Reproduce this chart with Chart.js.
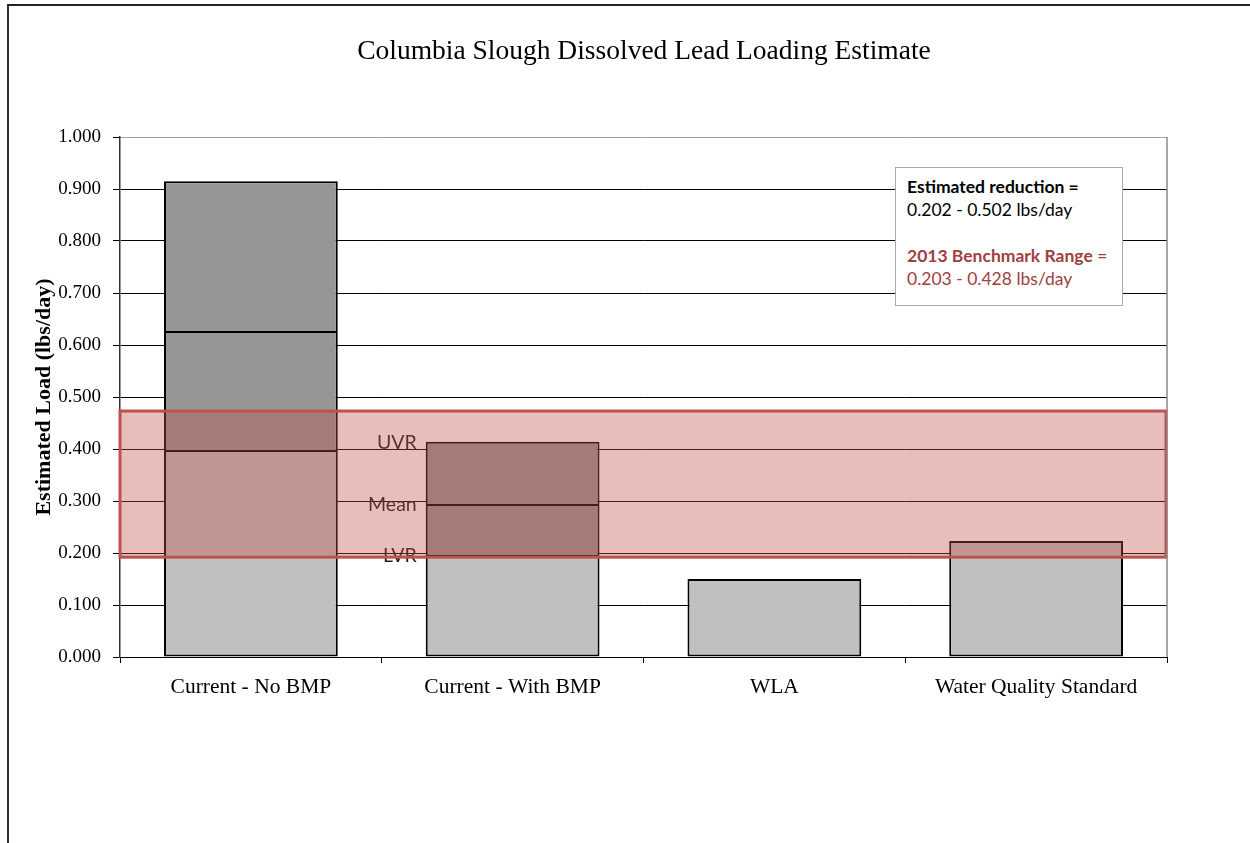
<!DOCTYPE html>
<html>
<head>
<meta charset="utf-8">
<script src="https://cdn.jsdelivr.net/npm/chart.js@4/dist/chart.umd.min.js"></script>
<style>
    html, body { margin: 0; padding: 0; background: #fff; }
    #wrap { position: relative; width: 1250px; height: 843px; overflow: hidden; }
    #frame { position: absolute; left: 7px; top: 4px; width: 1300px; height: 900px; border-top: 2px solid #222; border-left: 2px solid #333; }
    #chart { position: absolute; left: 0; top: 0; }
    #title {
        position: absolute; left: 344px; width: 600px; top: 33px; text-align: center;
        font-family: 'Liberation Serif', 'Times New Roman', serif; font-size: 27.5px; line-height: 34px; color: #000;
    }
    #note {
        position: absolute; left: 895px; top: 167px; width: 215px; height: 130px;
        border: 1px solid #aaa; background: #fff; padding: 7px 0 0 11px;
        font-family: Lato, 'Liberation Sans', sans-serif; font-size: 17.5px; line-height: 23px; color: #000;
    }
    #note .red { color: #a0413e; }
</style>
</head>
<body>
<div id="wrap">
    <div id="frame"></div>
    <canvas id="chart" width="1250" height="843"></canvas>
    <div id="title">Columbia Slough Dissolved Lead Loading Estimate</div>
    <div id="note">
        <b>Estimated reduction =</b><br>
        0.202 - 0.502 lbs/day<br>
        <br>
        <span class="red"><b>2013 Benchmark Range</b> =</span><br>
        <span class="red">0.203 - 0.428 lbs/day</span>
    </div>
</div>
<script>
const categories = ['Current - No BMP', 'Current - With BMP', 'WLA', 'Water Quality Standard'];
const lvr = [0.398, 0.196, 0.150, 0.223];
const mean = [0.627, 0.294, null, null];
const uvr = [0.915, 0.414, null, null];
const benchmarkBand = [0.192, 0.473];
const rangeLabels = ['UVR', 'Mean', 'LVR'];

const SERIF = "'Liberation Serif', 'Times New Roman', serif";

function span(lo, hi) {
    return lo.map((v, i) => (v === null || hi[i] === null) ? null : [v, hi[i]]);
}

const zeros = lvr.map(() => 0);

// band + range labels drawn over the bars
const overlayPlugin = {
    id: 'overlay',
    afterDatasetsDraw(chart) {
        const { ctx, chartArea, scales } = chart;
        const y = scales.y;

        // range labels next to the "With BMP" bar
        const bar = chart.getDatasetMeta(0).data[1];
        const lx = bar.x - bar.width / 2 - 9;
        const levels = [uvr[1], mean[1], lvr[1]];
        ctx.save();
        ctx.font = "19.5px Lato, 'Liberation Sans', sans-serif";
        ctx.fillStyle = '#1e1e1e';
        ctx.textAlign = 'right';
        ctx.textBaseline = 'middle';
        rangeLabels.forEach((t, i) => ctx.fillText(t, lx, y.getPixelForValue(levels[i]) + 1));
        ctx.restore();

        // benchmark band
        const top = y.getPixelForValue(benchmarkBand[1]);
        const bot = y.getPixelForValue(benchmarkBand[0]);
        ctx.save();
        ctx.fillStyle = 'rgba(192,80,77,0.37)';
        ctx.fillRect(chartArea.left, top, chartArea.right - chartArea.left, bot - top);
        ctx.strokeStyle = '#c0504d';
        ctx.lineWidth = 3;
        ctx.strokeRect(chartArea.left, top, chartArea.right - chartArea.left - 1, bot - top);
        ctx.restore();

        // right plot border
        ctx.save();
        ctx.strokeStyle = '#8a8a8a';
        ctx.lineWidth = 1.5;
        ctx.beginPath();
        ctx.moveTo(chartArea.right, chartArea.top);
        ctx.lineTo(chartArea.right, chartArea.bottom);
        ctx.stroke();
        ctx.restore();
    }
};

const barStyle = { borderColor: '#000', borderWidth: 2, grouped: false, barPercentage: 0.664, categoryPercentage: 1 };

new Chart(document.getElementById('chart'), {
    type: 'bar',
    data: {
        labels: categories,
        datasets: [
            { label: 'LVR', data: span(zeros, lvr), backgroundColor: '#c0c0c0', borderSkipped: false, ...barStyle },
            { label: 'Mean', data: span(lvr, mean), backgroundColor: '#969696', borderSkipped: 'start', ...barStyle },
            { label: 'UVR', data: span(mean, uvr), backgroundColor: '#969696', borderSkipped: 'start', ...barStyle },
        ],
    },
    options: {
        responsive: false,
        animation: false,
        layout: { padding: { top: 137, right: 83, bottom: 0, left: 0 } },
        plugins: {
            legend: { display: false },
            tooltip: { enabled: false },
        },
        scales: {
            x: {
                grid: { drawOnChartArea: false, drawTicks: true, tickLength: 6, tickColor: '#000', offset: true },
                border: { color: '#000', width: 1 },
                ticks: { color: '#000', font: { family: SERIF, size: 21.5 }, padding: 11, maxRotation: 0 },
                afterFit(scale) { scale.height = 186; },
            },
            y: {
                min: 0,
                max: 1,
                ticks: {
                    stepSize: 0.1,
                    color: '#000',
                    font: { family: SERIF, size: 19 },
                    padding: 12,
                    callback: v => v.toFixed(3),
                },
                grid: {
                    color: c => (c.tick && c.tick.value >= 0.999) ? '#a0a0a0' : '#000',
                    tickColor: '#000',
                    tickLength: 7,
                    lineWidth: 1,
                },
                border: { color: '#333', width: 1.5 },
                title: {
                    display: true,
                    text: 'Estimated Load (lbs/day)',
                    color: '#000',
                    font: { family: SERIF, size: 22, weight: 'bold' },
                    padding: { top: 31, bottom: 0 },
                },
                afterFit(scale) { scale.width = 120; },
            },
        },
    },
    plugins: [overlayPlugin],
});
</script>
</body>
</html>
